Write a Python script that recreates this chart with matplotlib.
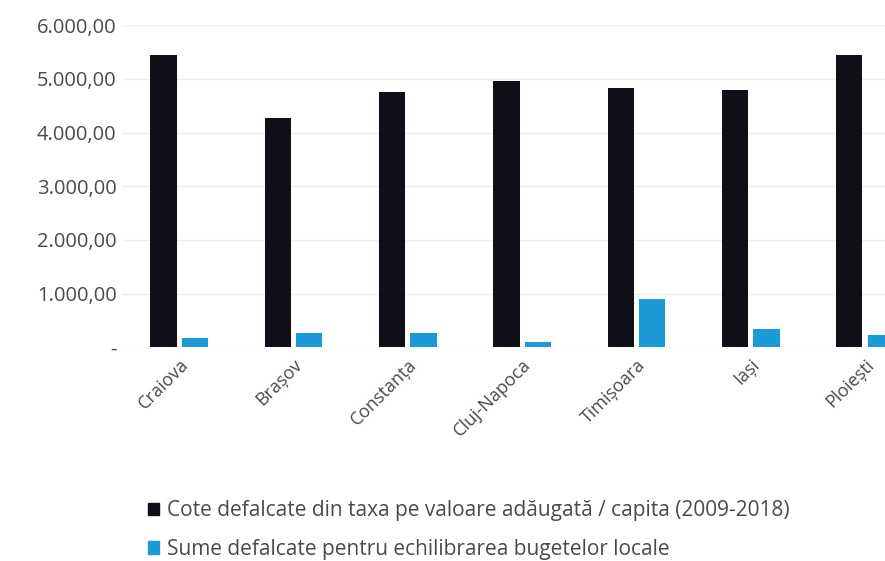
import numpy as np
import matplotlib.pyplot as plt
from matplotlib.patches import Patch
from matplotlib.ticker import FuncFormatter

plt.rcParams['font.family'] = ['Open Sans', 'DejaVu Sans']

# data
cities = ["Craiova", "Brașov", "Constanța", "Cluj-Napoca", "Timișoara", "Iași", "Ploiești"]
cote_tva = [5440, 4280, 4750, 4970, 4840, 4790, 5440]
sume_echil = [170, 260, 260, 90, 890, 335, 220]

label_tva = "Cote defalcate din taxa pe valoare adăugată / capita (2009-2018)"
label_echil = "Sume defalcate pentru echilibrarea bugetelor locale"

c_black = "#0f0f17"
c_blue = "#1b9ad8"

def fmt(v, pos):
    if v == 0:
        return "-"
    s = f"{v:,.2f}"
    return s.replace(",", "X").replace(".", ",").replace("X", ".")

fig = plt.figure(figsize=(8.85, 5.61), dpi=100)
ax = fig.add_axes([0.138, 0.381, 0.904, 0.574])

x = np.arange(len(cities))
w = 0.23
ax.bar(x - 0.138, cote_tva, w, color=c_black, zorder=3)
ax.bar(x + 0.138, sume_echil, w, color=c_blue, zorder=3)

ax.set_xlim(-0.5, len(cities) - 0.5)
ax.set_ylim(0, 6000)
ax.set_yticks(np.arange(0, 6001, 1000))
ax.yaxis.set_major_formatter(FuncFormatter(fmt))
ax.grid(axis='y', color='#efefef', linewidth=1, zorder=0)
for s in ax.spines.values():
    s.set_visible(False)
ax.tick_params(length=0, labelsize=14.5, colors='#4a4a4a')
ax.tick_params(axis='y', pad=4)
ax.tick_params(axis='x', pad=6)
ax.set_xticks(x)
ax.set_xticklabels(cities, rotation=45, ha='right', rotation_mode='anchor', fontsize=13)

handles = [Patch(color=c_black, label=label_tva), Patch(color=c_blue, label=label_echil)]
fig.legend(handles=handles, loc='upper left', bbox_to_anchor=(0.167, 0.108), frameon=False,
           fontsize=15, labelcolor='#4a4a4a', handlelength=0.55, handleheight=0.55,
           handletextpad=0.35, labelspacing=0.85, borderaxespad=0, borderpad=0)

fig.savefig("out.png", dpi=100)
